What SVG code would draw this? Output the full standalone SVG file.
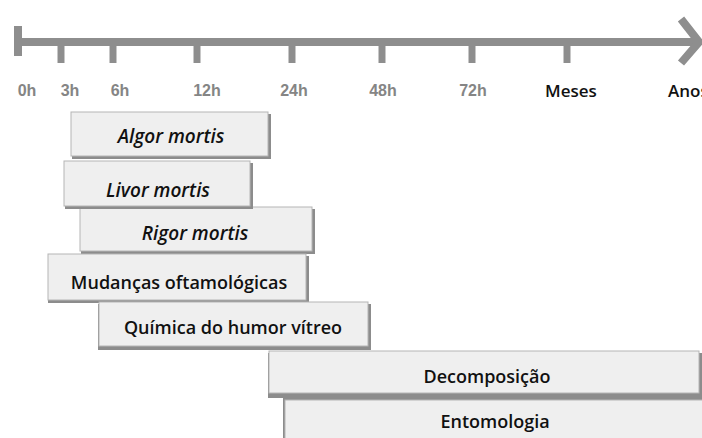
<svg xmlns="http://www.w3.org/2000/svg" width="702" height="438" viewBox="0 0 702 438">
<style>
.ax{stroke:#8e8e8e;stroke-width:8;fill:none}
.tk{stroke:#8e8e8e;stroke-width:7}
.tl{font-family:"Liberation Sans",Arial,sans-serif;font-size:16px;font-weight:bold;fill:#858585;text-anchor:middle}
.tb{font-family:"Open Sans","Liberation Sans",sans-serif;font-size:17px;font-weight:600;fill:#111;text-anchor:middle}
.sh{fill:#8c8c8c}
.bx{fill:#efefef;stroke:#b5b5b5;stroke-width:1}
.lb{font-family:"Open Sans","Liberation Sans",sans-serif;font-size:18px;font-weight:600;fill:#111;text-anchor:middle}
.it{font-style:italic;font-size:19px}
</style>
<rect width="702" height="438" fill="#ffffff"/>
<g id="axis">
<line class="ax" x1="18" y1="42" x2="696" y2="42"/>
<line class="ax" x1="18" y1="26" x2="18" y2="56"/>
<polyline class="ax" points="681,19 699,42 681,63" stroke-linejoin="miter"/>
<line class="tk" x1="61" y1="42" x2="61" y2="63"/>
<line class="tk" x1="113" y1="42" x2="113" y2="63"/>
<line class="tk" x1="197" y1="42" x2="197" y2="63"/>
<line class="tk" x1="292" y1="42" x2="292" y2="63"/>
<line class="tk" x1="382" y1="42" x2="382" y2="63"/>
<line class="tk" x1="472" y1="42" x2="472" y2="63"/>
<line class="tk" x1="567" y1="42" x2="567" y2="63"/>
<text class="tl" x="27" y="96">0h</text>
<text class="tl" x="70" y="96">3h</text>
<text class="tl" x="120" y="96">6h</text>
<text class="tl" x="207" y="96">12h</text>
<text class="tl" x="294" y="96">24h</text>
<text class="tl" x="383" y="96">48h</text>
<text class="tl" x="473" y="96">72h</text>
<text class="tb" x="571" y="97">Meses</text>
<text class="tb" x="668" y="97" style="text-anchor:start">Anos</text>
</g>
<g id="algor">
<rect class="sh" x="72" y="114" width="199" height="45"/>
<rect class="bx" x="71" y="112" width="197" height="44"/>
<text class="lb it" x="171" y="143">Algor mortis</text>
</g>
<g id="rigor">
<rect class="sh" x="81" y="209" width="234" height="45"/>
<rect class="bx" x="80" y="207" width="232" height="44"/>
<text class="lb it" x="195" y="240">Rigor mortis</text>
</g>
<g id="livor">
<rect class="sh" x="65" y="163" width="188" height="46"/>
<rect class="bx" x="64" y="161" width="186" height="45"/>
<text class="lb it" x="158" y="197">Livor mortis</text>
</g>
<g id="mudancas">
<rect class="sh" x="48" y="256" width="261" height="47"/>
<rect class="bx" x="48" y="254" width="258" height="46"/>
<text class="lb" x="179" y="289">Mudanças oftamológicas</text>
</g>
<g id="quimica">
<rect class="sh" x="98" y="304" width="273" height="46"/>
<rect class="bx" x="99" y="302" width="269" height="44"/>
<text class="lb" x="233" y="334">Química do humor vítreo</text>
</g>
<g id="decomposicao">
<rect class="sh" x="268" y="353" width="440" height="45"/>
<rect class="bx" x="269" y="351" width="430" height="42"/>
<text class="lb" x="487" y="383">Decomposição</text>
</g>
<g id="entomologia">
<rect class="sh" x="283" y="398" width="430" height="45"/>
<rect class="bx" x="285" y="400" width="420" height="45"/>
<text class="lb" x="495" y="428">Entomologia</text>
</g>
<g id="connectors"></g>
</svg>
